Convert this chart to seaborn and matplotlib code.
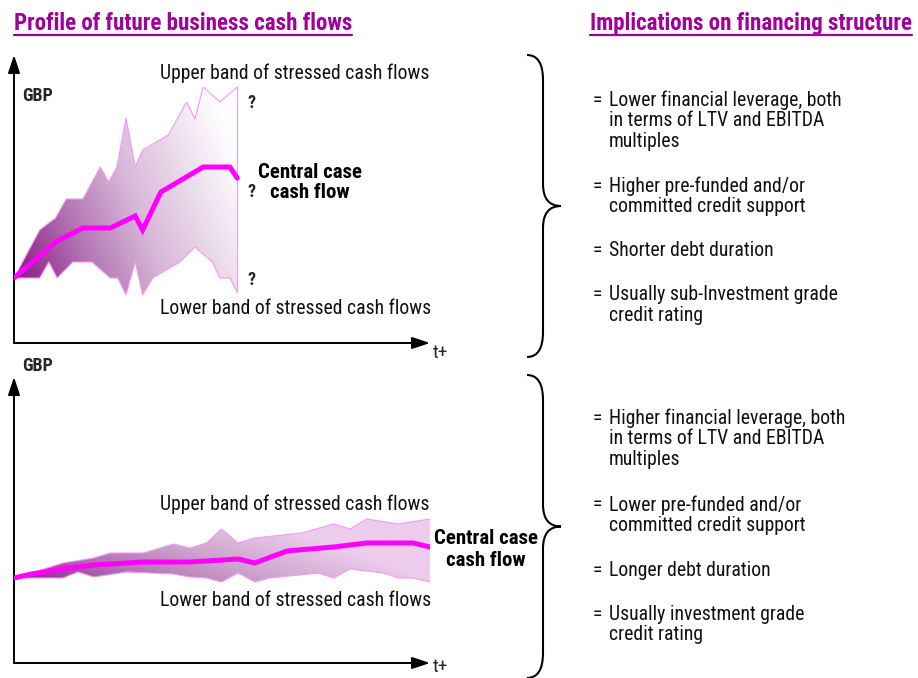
import numpy as np
import matplotlib
matplotlib.use("Agg")
import matplotlib.pyplot as plt
import seaborn as sns
from matplotlib.colors import LinearSegmentedColormap
from matplotlib.path import Path
from matplotlib.patches import PathPatch

# ---- data (time in periods, cash flow in GBP units) ----
# volatile business (top)
top_central_t = [0, 5.2, 8.3, 11.6, 14.6, 15.5, 17.7, 22.8, 26.0, 26.9]
top_central_v = [6.5, 10.2, 11.5, 11.5, 12.7, 11.3, 15.1, 17.6, 17.6, 16.5]
top_upper_t = [0, 3.1, 5.0, 6.3, 8.3, 10.4, 11.4, 12.4, 13.5, 14.6, 15.5, 18.6, 20.8, 21.8, 22.8, 24.8, 26.9]
top_upper_v = [6.5, 11.3, 12.5, 14.4, 14.4, 17.6, 16.1, 17.6, 22.5, 17.6, 19.3, 20.8, 24.1, 22.4, 25.6, 24.1, 25.6]
top_lower_t = [0, 3.1, 4.2, 5.2, 7.1, 9.4, 11.6, 12.5, 13.5, 14.6, 15.5, 16.7, 20.0, 21.8, 23.9, 24.8, 26.0, 26.9]
top_lower_v = [6.5, 6.5, 8.1, 6.5, 8.1, 8.1, 6.5, 6.5, 4.8, 8.1, 4.8, 6.5, 8.1, 9.6, 8.1, 6.5, 6.5, 5.1]

# stable business (bottom)
bot_central_t = [0, 2.1, 5.9, 9.6, 15.6, 21.2, 27.0, 29.0, 32.9, 38.5, 42.5, 48.1, 50.1]
bot_central_v = [8.5, 8.9, 9.4, 9.8, 10.1, 10.1, 10.4, 10.0, 11.2, 11.6, 12.0, 12.0, 11.6]
bot_upper_t = [0, 2.1, 5.9, 9.6, 11.6, 15.6, 19.2, 21.2, 23.2, 25.0, 27.0, 29.0, 34.7, 38.5, 40.5, 42.5, 46.3, 50.1]
bot_upper_v = [8.5, 9.0, 10.0, 10.5, 11.0, 11.0, 11.9, 11.5, 12.0, 13.4, 12.0, 12.5, 13.0, 13.9, 13.4, 14.4, 13.9, 14.4]
bot_lower_t = [0, 5.9, 7.7, 9.6, 13.6, 19.2, 21.2, 23.2, 25.0, 27.0, 29.0, 30.8, 36.7, 38.5, 40.5, 44.5, 46.3, 48.1, 50.1]
bot_lower_v = [8.5, 8.5, 9.1, 8.6, 9.1, 8.9, 8.6, 8.5, 8.1, 9.0, 8.1, 8.5, 9.0, 8.5, 9.4, 9.0, 8.5, 8.5, 8.1]

top_points = [
    "Lower financial leverage, both\nin terms of LTV and EBITDA\nmultiples",
    "Higher pre-funded and/or\ncommitted credit support",
    "Shorter debt duration",
    "Usually sub-Investment grade\ncredit rating",
]
bot_points = [
    "Higher financial leverage, both\nin terms of LTV and EBITDA\nmultiples",
    "Lower pre-funded and/or\ncommitted credit support",
    "Longer debt duration",
    "Usually investment grade\ncredit rating",
]

sns.set_theme(style="white")
plt.rcParams["font.family"] = ["Roboto Condensed", "DejaVu Sans"]

W, H = 918, 678
MAGENTA = "#FF00FF"
EDGE = "#F39AF3"
PURPLE = "#A0009C"

fig = plt.figure(figsize=(W / 100, H / 100), dpi=100)

# overlay in pixel units for the text and braces
ov = fig.add_axes([0, 0, 1, 1])
ov.set_xlim(0, W)
ov.set_ylim(H, 0)
ov.axis("off")


def chart_axes(left, bottom_px, right, top_px):
    ax = fig.add_axes([left / W, (H - bottom_px) / H, (right - left) / W, (bottom_px - top_px) / H])
    ax.set_xlim(0, (right - left) / 8.3)
    ax.set_ylim(0, (bottom_px - top_px) / 10)
    ax.axis("off")
    ax.patch.set_alpha(0)
    for xy in [(0, 1), (1, 0)]:
        ax.annotate("", xy=xy, xytext=(0, 0), xycoords="axes fraction",
                    arrowprops=dict(arrowstyle="-|>,head_length=0.9,head_width=0.3",
                                    color="black", lw=1.4, shrinkA=0, shrinkB=0),
                    annotation_clip=False)
    return ax


def band(ax, ut, uv, lt, lv, cmap, kt, kv, v0):
    xs = list(ut) + list(lt[::-1])
    ys = list(uv) + list(lv[::-1])
    poly = ax.fill(xs, ys, facecolor="none", edgecolor="none")[0]
    x0, x1 = ax.get_xlim()
    y0, y1 = ax.get_ylim()
    gx, gy = np.meshgrid(np.linspace(x0, x1, 400), np.linspace(y0, y1, 300))
    g = np.clip(kt * gx + kv * (gy - v0), 0, 1)
    im = ax.imshow(g, extent=[x0, x1, y0, y1], origin="lower", aspect="auto",
                   cmap=cmap, vmin=0, vmax=1, zorder=1, interpolation="bilinear")
    im.set_clip_path(poly)
    ax.plot(ut, uv, color=EDGE, lw=0.8, zorder=2)
    ax.plot(lt, lv, color=EDGE, lw=0.8, zorder=2)
    ax.plot([ut[-1], lt[-1]], [uv[-1], lv[-1]], color=EDGE, lw=0.8, zorder=2)


cmap_top = LinearSegmentedColormap.from_list(
    "top", [(0, "#8A1A84"), (0.3, "#B478B4"), (0.55, "#D8B8D8"), (0.85, "#F2E8F2"), (1, "#FFFFFF")])
cmap_bot = LinearSegmentedColormap.from_list(
    "bot", [(0, "#8B248B"), (0.3, "#B070B0"), (0.6, "#CBA2CB"), (1, "#EDCCED")])

# top chart
ax1 = chart_axes(14, 343, 430, 55)
band(ax1, top_upper_t, top_upper_v, top_lower_t, top_lower_v, cmap_top, 0.03, 0.015, 6.5)
sns.lineplot(x=top_central_t, y=top_central_v, ax=ax1, color=MAGENTA, lw=3.6,
             sort=False, zorder=3, solid_joinstyle="miter")

# bottom chart
ax2 = chart_axes(14, 663, 430, 377)
band(ax2, bot_upper_t, bot_upper_v, bot_lower_t, bot_lower_v, cmap_bot, 0.02, 0.07, 8.5)
sns.lineplot(x=bot_central_t, y=bot_central_v, ax=ax2, color=MAGENTA, lw=3.6,
             sort=False, zorder=3, solid_joinstyle="miter")

# titles
for x, txt in [(14, "Profile of future business cash flows"), (590, "Implications on financing structure")]:
    t = ov.text(x, 30, txt, color=PURPLE, fontsize=16.6, fontweight="bold", va="baseline", ha="left")
    fig.canvas.draw()
    bb = t.get_window_extent()
    ov.plot([x, x + bb.width], [35, 35], color=PURPLE, lw=1.6)

body = dict(fontsize=14.2, color="#111111", va="center")
bold = dict(fontsize=15, color="black", fontweight="bold", va="center")

# chart labels
ov.text(22, 96, "GBP", fontsize=13, fontweight="bold", va="center")
ov.text(22, 366, "GBP", fontsize=13, fontweight="bold", va="center")
ov.text(433, 353, "t+", fontsize=14, va="center")
ov.text(433, 667, "t+", fontsize=14, va="center")
for y in [103, 192, 280]:
    ov.text(247, y, "?", fontsize=13, fontweight="bold", va="center")

ov.text(160, 73, "Upper band of stressed cash flows", **body)
ov.text(160, 309, "Lower band of stressed cash flows", **body)
ov.text(160, 504, "Upper band of stressed cash flows", **body)
ov.text(160, 601, "Lower band of stressed cash flows", **body)

ov.text(310, 172, "Central case", ha="center", **bold)
ov.text(310, 193, "cash flow", ha="center", **bold)
ov.text(486, 539, "Central case", ha="center", **bold)
ov.text(486, 560, "cash flow", ha="center", **bold)


def brace(top, bottom, x0=527, xm=543, xt=561):
    mid = (top + bottom) / 2
    verts = [(x0, top), (xm, top), (xm, top + 25),
             (xm, mid - 22), (xm, mid), (xt, mid),
             (xm, mid), (xm, mid + 22),
             (xm, bottom - 25), (xm, bottom), (x0, bottom)]
    codes = [Path.MOVETO, Path.CURVE3, Path.CURVE3,
             Path.LINETO, Path.CURVE3, Path.CURVE3,
             Path.CURVE3, Path.CURVE3,
             Path.LINETO, Path.CURVE3, Path.CURVE3]
    ov.add_patch(PathPatch(Path(verts, codes), facecolor="none", edgecolor="black", lw=1.5))


brace(55, 357)
brace(375, 678)


def bullets(points, ys):
    for txt, y in zip(points, ys):
        ov.text(593, y, "=", **body)
        for i, line in enumerate(txt.split("\n")):
            ov.text(609, y + i * 20.8, line, **body)


bullets(top_points, [100, 186, 250, 295])
bullets(bot_points, [418, 505, 570, 614])

fig.savefig("out.png", dpi=100)
